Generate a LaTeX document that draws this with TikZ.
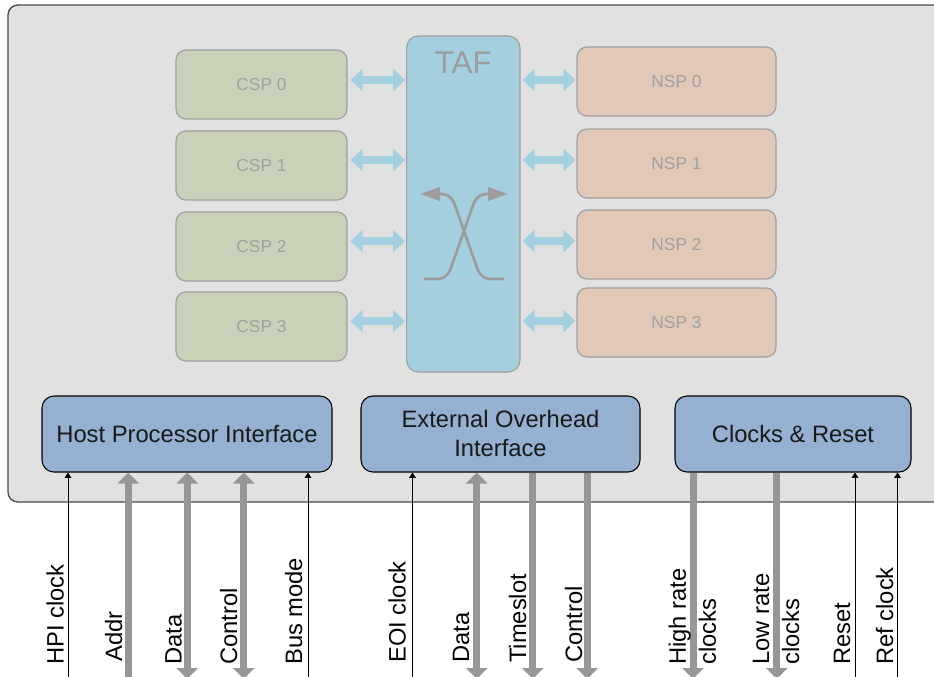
\documentclass[tikz,border=0pt]{standalone}
\usepackage{fontspec}
\setmainfont{Liberation Sans}
\usetikzlibrary{arrows.meta}
\definecolor{outerfill}{HTML}{E1E1E1}
\definecolor{outerdraw}{HTML}{4A4A4A}
\definecolor{cspfill}{HTML}{C9D1B9}
\definecolor{nspfill}{HTML}{E1C8B7}
\definecolor{taffill}{HTML}{A4CFDF}
\definecolor{softgray}{HTML}{A0A0A0}
\definecolor{ifill}{HTML}{95B0D0}
\definecolor{sigcol}{HTML}{969696}
\definecolor{xcol}{HTML}{9C9C9C}
\tikzset{
  spbox/.style={draw=softgray, line width=0.9pt, rounded corners=7.5pt, inner sep=0pt,
    minimum height=51.75pt, text=softgray, font=\fontsize{13}{15}\selectfont},
  cspbox/.style={spbox, fill=cspfill, minimum width=128.25pt},
  nspbox/.style={spbox, fill=nspfill, minimum width=149.25pt},
  ifbox/.style={draw=black, line width=0.8pt, fill=ifill, rounded corners=9pt, inner sep=0pt,
    minimum height=57pt, align=center, text=black!90, font=\fontsize{17.8}{21.75}\selectfont},
  dbl/.style={draw=taffill, line width=6pt,
    {Triangle[length=9pt,width=16.5pt]}-{Triangle[length=9pt,width=16.5pt]}},
  sig/.style={draw=sigcol, line width=5.25pt},
  sigup/.style={sig, -{Triangle[length=8.25pt,width=15.75pt]}},
  sigdown/.style={sig, -{Triangle[length=8.25pt,width=15.75pt]}},
  sigboth/.style={sig, {Triangle[length=8.25pt,width=15.75pt]}-{Triangle[length=8.25pt,width=15.75pt]}},
  thinsig/.style={draw=black, line width=0.75pt, -{Triangle[length=4pt,width=5pt]}},
  lbl/.style={rotate=90, inner sep=0pt, text=black, font=\fontsize{17.8}{22.5}\selectfont},
  lbltwo/.style={lbl, align=left, anchor=north west},
}
\begin{document}
\begin{tikzpicture}[x=0.75pt,y=-0.75pt]
\useasboundingbox (0,0) rectangle (934,676);
\clip (0,0) rectangle (934,676);
\fill[white] (0,0) rectangle (934,676);
% outer board
\draw[fill=outerfill, draw=outerdraw, line width=1pt, rounded corners=7.5pt] (8,5) rectangle (970,502);

% TAF
\node[draw=softgray, line width=0.9pt, fill=taffill, rounded corners=9pt, minimum width=85pt, minimum height=252pt, inner sep=0pt] (taf) at (463.3,204) {};
\node[anchor=base, text=xcol, font=\fontsize{23.5}{26}\selectfont, inner sep=0pt] (taflbl) at (463.3,73) {TAF};

% crossing icon
\draw[xcol, line width=2pt, rounded corners=7pt, -{Triangle[length=15pt,width=10pt]}]
  (424,279) -- (447,279) -- (477,194) -- (508,194);
\draw[xcol, line width=2pt, rounded corners=7pt, -{Triangle[length=15pt,width=10pt]}]
  (504,279) -- (481,279) -- (451,194) -- (420,194);

% CSP boxes
\node[cspbox] (csp0) at (261.5,84.5) {CSP 0};
\node[cspbox] (csp1) at (261.5,165.5) {CSP 1};
\node[cspbox] (csp2) at (261.5,246.5) {CSP 2};
\node[cspbox] (csp3) at (261.5,326.5) {CSP 3};
% NSP boxes
\node[nspbox] (nsp0) at (676.5,81.5) {NSP 0};
\node[nspbox] (nsp1) at (676.5,163.5) {NSP 1};
\node[nspbox] (nsp2) at (676.5,244.5) {NSP 2};
\node[nspbox] (nsp3) at (676.5,322.5) {NSP 3};

% arrow rows
\coordinate (r0) at (0,80);
\coordinate (r1) at (0,160);
\coordinate (r2) at (0,241);
\coordinate (r3) at (0,321);
\foreach \i in {0,1,2,3}{
  \draw[dbl, shorten <=2.25pt, shorten >=0.75pt] (csp\i.east |- r\i) -- (taf.west |- r\i);
  \draw[dbl, shorten <=1.5pt, shorten >=0.75pt] (taf.east |- r\i) -- (nsp\i.west |- r\i);
}

% interface boxes
\node[ifbox, minimum width=217.5pt] (hpi) at (187,434) {Host Processor Interface};
\node[ifbox, minimum width=209.25pt] (eoi) at (500.5,434) {External Overhead\\Interface};
\node[ifbox, minimum width=177pt] (clk) at (793,434) {Clocks \& Reset};

% signal end points
\coordinate (hpiclk) at (68,678);
\coordinate (addr) at (128.3,690);
\coordinate (hdata) at (187.2,679);
\coordinate (hctrl) at (243.8,679);
\coordinate (busmode) at (308,678);
\coordinate (eoiclk) at (412.5,678);
\coordinate (edata) at (476.7,679);
\coordinate (tslot) at (532.7,679);
\coordinate (ectrl) at (587.3,679);
\coordinate (hiclk) at (693,679);
\coordinate (loclk) at (776.7,679);
\coordinate (reset) at (855,678);
\coordinate (refclk) at (897.5,678);

% HPI signals
\draw[thinsig] (hpiclk) -- (hpiclk |- hpi.south);
\draw[sigup] (addr) -- (addr |- hpi.south);
\draw[sigboth] (hdata |- hpi.south) -- (hdata);
\draw[sigboth] (hctrl |- hpi.south) -- (hctrl);
\draw[thinsig] (busmode) -- (busmode |- hpi.south);
% EOI signals
\draw[thinsig] (eoiclk) -- (eoiclk |- eoi.south);
\draw[sigboth] (edata |- eoi.south) -- (edata);
\draw[sigdown] (tslot |- eoi.south) -- (tslot);
\draw[sigdown] (ectrl |- eoi.south) -- (ectrl);
% clock signals
\draw[sigdown] (hiclk |- clk.south) -- (hiclk);
\draw[sigdown] (loclk |- clk.south) -- (loclk);
\draw[thinsig] (reset) -- (reset |- clk.south);
\draw[thinsig] (refclk) -- (refclk |- clk.south);

% labels
\node[lbl, anchor=base west] (l1) at (63.5,665) {HPI clock};
\node[lbl, anchor=base west] (l2) at (122,662) {Addr};
\node[lbl, anchor=base west] (l3) at (181.7,665) {Data};
\node[lbl, anchor=base west] (l4) at (237,665) {Control};
\node[lbl, anchor=base west] (l5) at (302,665) {Bus mode};
\node[lbl, anchor=base west] (l6) at (405.5,663) {EOI clock};
\node[lbl, anchor=base west] (l7) at (469,663) {Data};
\node[lbl, anchor=base west] (l8) at (526,663) {Timeslot};
\node[lbl, anchor=base west] (l9) at (582,663) {Control};
\node[lbltwo] (l10) at (668.5,665) {High rate\\clocks};
\node[lbltwo] (l11) at (752.5,665) {Low rate\\clocks};
\node[lbl, anchor=base west] (l12) at (850,665) {Reset};
\node[lbl, anchor=base west] (l13) at (893,665) {Ref clock};
\end{tikzpicture}
\end{document}
